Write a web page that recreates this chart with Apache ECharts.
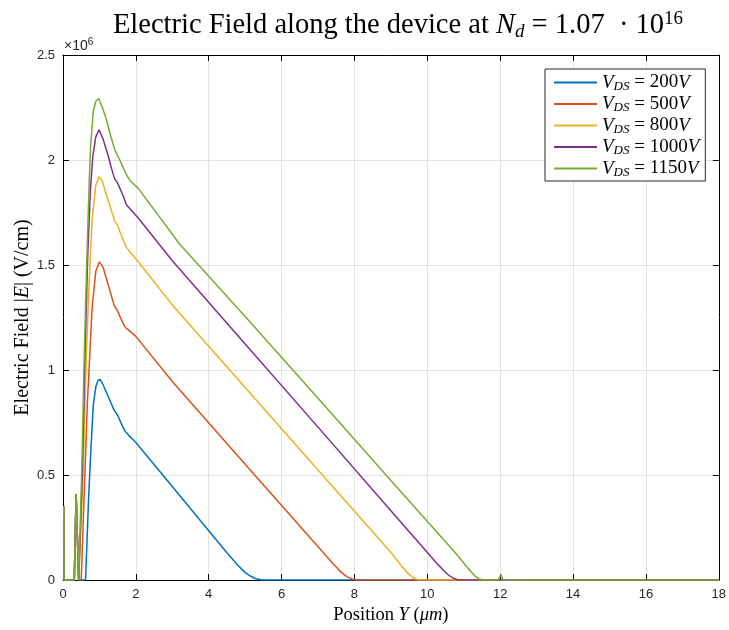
<!DOCTYPE html>
<html>
<head>
<meta charset="utf-8">
<script src="https://cdn.jsdelivr.net/npm/echarts@6/dist/echarts.min.js"></script>
<style>
html,body{margin:0;padding:0;background:#fff;overflow:hidden;}
#c{width:729px;height:630px;}
</style>
</head>
<body>
<div id="c"></div>
<script>
// Bias voltages (legend)
const vds = [200, 500, 800, 1000, 1150];
const colors = ['#0072BD', '#D95319', '#EDB120', '#7E2F8E', '#77AC30'];

// Shared initial spikes near Y = 0 (position in um, field in 1e6 V/cm)
const spikeX = [0.02, 0.03, 0.31, 0.36, 0.43];
const spikeE = [0.35, 0, 0, 0.41, 0];

// VDS = 200 V
const x200 = [0.62,0.7,0.76,0.83,0.9,0.96,1.02,1.1,1.2,1.3,1.4,1.5,1.6,1.7,1.8,2.0,3,4,4.5,4.8,5.0,5.15,5.3,5.45,18];
const e200 = [0,0.38,0.6,0.83,0.92,0.95,0.955,0.93,0.89,0.85,0.81,0.785,0.745,0.71,0.69,0.655,0.445,0.235,0.13,0.07,0.035,0.018,0.006,0,0];
// VDS = 500 V
const x500 = [0.5,0.56,0.62,0.67,0.72,0.8,0.9,1.0,1.1,1.2,1.3,1.4,1.5,1.6,1.7,1.8,2.0,3,5,7.16,7.45,7.65,7.8,7.95,8.05,18];
const e500 = [0,0.3,0.6,0.85,1.02,1.3,1.47,1.515,1.49,1.43,1.37,1.31,1.28,1.24,1.205,1.19,1.16,0.945,0.551,0.127,0.07,0.035,0.015,0.004,0,0];
// VDS = 800 V
const x800 = [0.48,0.55,0.62,0.7,0.8,0.9,0.99,1.08,1.18,1.28,1.42,1.5,1.56,1.65,1.74,1.85,2.0,3,5,7,9.02,9.3,9.45,9.6,9.75,18];
const e800 = [0,0.5,0.95,1.35,1.72,1.88,1.92,1.9,1.84,1.787,1.71,1.69,1.66,1.62,1.584,1.56,1.53,1.31,0.917,0.524,0.127,0.065,0.035,0.012,0,0];
// VDS = 1000 V
const x1000 = [0.46,0.53,0.6,0.68,0.75,0.82,0.9,0.99,1.1,1.24,1.33,1.42,1.5,1.56,1.65,1.74,1.85,2.06,3,5,7,9,10.02,10.3,10.45,10.57,10.7,10.85,18];
const e1000 = [0,0.5,1.05,1.55,1.85,2.02,2.11,2.144,2.1,2.02,1.96,1.91,1.89,1.866,1.83,1.787,1.765,1.725,1.52,1.124,0.728,0.33,0.127,0.072,0.045,0.025,0.01,0,0];
// VDS = 1150 V
const x1150 = [0.45,0.52,0.58,0.65,0.72,0.76,0.83,0.9,0.98,1.08,1.19,1.3,1.42,1.5,1.56,1.65,1.74,1.85,2.06,3.2,5,7,9,10.78,11.05,11.17,11.3,11.44,11.6,11.95,12.02,12.08,18];
const e1150 = [0,0.55,1.05,1.5,1.9,2.07,2.23,2.28,2.293,2.25,2.195,2.12,2.05,2.02,2.0,1.965,1.93,1.9,1.866,1.6,1.255,0.865,0.474,0.127,0.07,0.045,0.02,0.003,0,0,0.025,0,0];

const xs = [x200, x500, x800, x1000, x1150];
const es = [e200, e500, e800, e1000, e1150];

function pairs(x, e) {
  const out = [];
  for (let i = 0; i < spikeX.length; i++) out.push([spikeX[i], spikeE[i]]);
  for (let i = 0; i < x.length; i++) out.push([x[i], e[i]]);
  return out;
}

const serif = 'Liberation Serif';
const sans = 'Liberation Sans';

const series = vds.map((v, i) => ({
  name: String(v),
  type: 'line',
  data: pairs(xs[i], es[i]),
  showSymbol: false,
  symbol: 'none',
  smooth: false,
  lineStyle: { width: 1.5, color: colors[i] },
  itemStyle: { color: colors[i] },
  xAxisIndex: 0,
  yAxisIndex: 0,
  z: 3 + i
}));

const chart = echarts.init(document.getElementById('c'), null, { renderer: 'canvas', width: 729, height: 630 });

const axisLine = { show: true, onZero: false, lineStyle: { color: '#000', width: 1 } };
const tickStyle = { show: true, inside: true, length: 6, lineStyle: { color: '#000', width: 1 } };

chart.setOption({
  animation: false,
  backgroundColor: '#fff',
  color: colors,
  title: {
    text: '{t|Electric Field along the device at }{i|N}{sub|d}{t| = 1.07  · 10}{sup|16}',
    left: 393,
    textAlign: 'center',
    top: 5,
    textStyle: {
      fontWeight: 'normal',
      rich: {
        t: { fontFamily: serif, fontSize: 28.5, fontWeight: 'normal', color: '#000' },
        i: { fontFamily: serif, fontSize: 28.5, fontStyle: 'italic', fontWeight: 'normal', color: '#000' },
        sub: { fontFamily: serif, fontSize: 19, fontStyle: 'italic', fontWeight: 'normal', color: '#000', padding: [12, 0, 0, 0] },
        sup: { fontFamily: serif, fontSize: 19, fontWeight: 'normal', color: '#000', padding: [0, 0, 12, 0] }
      }
    }
  },
  legend: {
    orient: 'vertical',
    left: 545,
    top: 69,
    padding: [3, 6, 2, 9],
    itemGap: 0.5,
    itemWidth: 43,
    itemHeight: 2,
    icon: 'rect',
    backgroundColor: '#fff',
    borderColor: '#262626',
    borderWidth: 1,
    borderRadius: 0,
    data: vds.map(String),
    formatter: function (name) {
      return '{i|V}{s|DS}{n| = ' + name + '}{i|V}';
    },
    textStyle: {
      padding: [0, 0, 0, 0],
      lineHeight: 20,
      rich: {
        i: { fontFamily: serif, fontSize: 19, fontStyle: 'italic', color: '#000', lineHeight: 20 },
        s: { fontFamily: serif, fontSize: 13, fontStyle: 'italic', color: '#000', padding: [8, 0, 0, 0], lineHeight: 20 },
        n: { fontFamily: serif, fontSize: 19, color: '#000', lineHeight: 20 }
      }
    }
  },
  grid: { left: 63, right: 7, top: 55, bottom: 43, containLabel: false, show: false },
  xAxis: [
    {
      type: 'value', min: 0, max: 18, interval: 2, position: 'bottom',
      axisLine: axisLine, axisTick: tickStyle,
      axisLabel: { fontFamily: sans, fontSize: 13, color: '#262626', margin: 8 },
      splitLine: { show: true, lineStyle: { color: '#e3e3e3', width: 1 } },
      name: '{t|Position }{i|Y}{t| (}{i|μm}{t|)}',
      nameLocation: 'middle',
      nameGap: 26,
      nameTextStyle: {
        rich: {
          t: { fontFamily: serif, fontSize: 18.5, color: '#000' },
          i: { fontFamily: serif, fontSize: 18.5, fontStyle: 'italic', color: '#000' }
        }
      }
    },
    {
      type: 'value', min: 0, max: 18, interval: 2, position: 'top',
      axisLine: axisLine, axisTick: tickStyle,
      axisLabel: { show: false }, splitLine: { show: false }
    }
  ],
  yAxis: [
    {
      type: 'value', min: 0, max: 2.5, interval: 0.5, position: 'left',
      axisLine: axisLine, axisTick: tickStyle,
      axisLabel: { fontFamily: sans, fontSize: 13, color: '#262626', margin: 8,
        formatter: function (v) { return String(v); } },
      splitLine: { show: true, lineStyle: { color: '#e3e3e3', width: 1 } },
      name: '{t|Electric Field |}{i|E}{t|| (V/cm)}',
      nameLocation: 'middle',
      nameGap: 30,
      nameMoveOverlap: false,
      nameTextStyle: {
        rich: {
          t: { fontFamily: serif, fontSize: 20, color: '#000' },
          i: { fontFamily: serif, fontSize: 20, fontStyle: 'italic', color: '#000' }
        }
      }
    },
    {
      type: 'value', min: 0, max: 2.5, interval: 0.5, position: 'right',
      axisLine: axisLine, axisTick: tickStyle,
      axisLabel: { show: false }, splitLine: { show: false }
    }
  ],
  graphic: [
    {
      type: 'text',
      left: 64,
      top: 37,
      style: {
        text: '{a|×10}{b|6}',
        rich: {
          a: { fontFamily: sans, fontSize: 14, fill: '#262626' },
          b: { fontFamily: sans, fontSize: 10, fill: '#262626', padding: [0, 0, 8, 0] }
        }
      }
    }
  ],
  series: series
});
</script>
</body>
</html>
